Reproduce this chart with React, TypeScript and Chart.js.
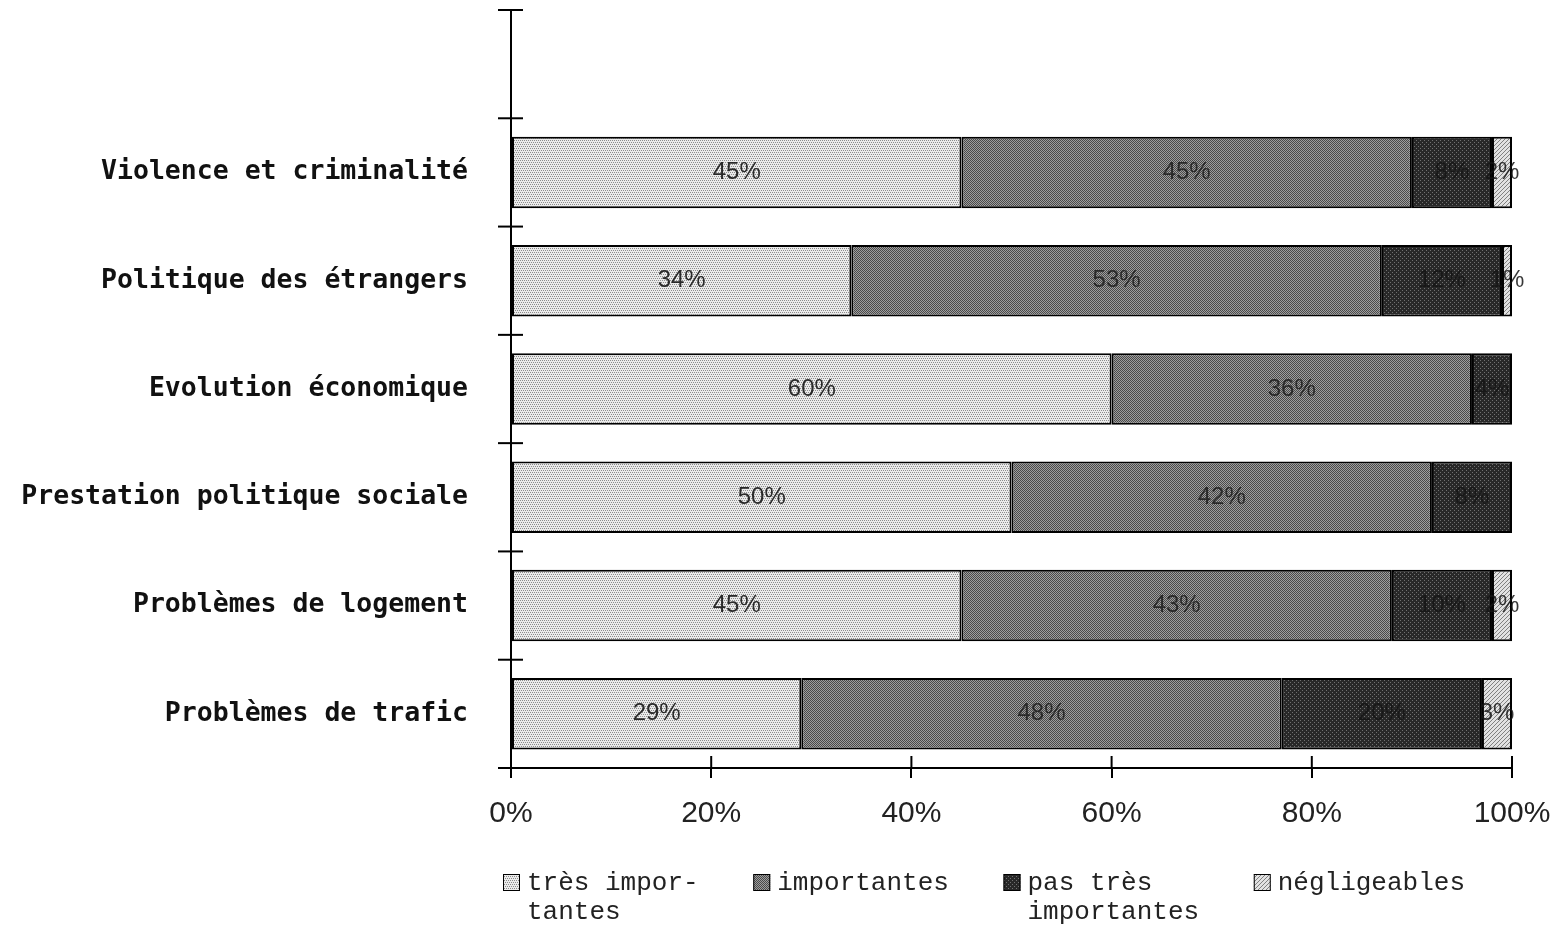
import React, { useEffect, useRef } from 'react';
import { Chart, registerables } from 'chart.js';

Chart.register(...registerables);

const categories = [
  'Violence et criminalité',
  'Politique des étrangers',
  'Evolution économique',
  'Prestation politique sociale',
  'Problèmes de logement',
  'Problèmes de trafic',
];
const seriesLabels = ['très impor-\ntantes', 'importantes', 'pas très\nimportantes', 'négligeables'];
const tresImportantes = [45, 34, 60, 50, 45, 29];
const importantes = [45, 53, 36, 42, 43, 48];
const pasTresImportantes = [8, 12, 4, 8, 10, 20];
const negligeables = [2, 1, 0, 0, 2, 3];
const xTickValues = [0, 20, 40, 60, 80, 100];

type Kind = 'light' | 'mid' | 'dark' | 'hatch';

function makePattern(kind: Kind): CanvasPattern | string {
  const c = document.createElement('canvas');
  c.width = 4;
  c.height = 4;
  const g = c.getContext('2d');
  if (!g) return '#888';
  if (kind === 'light') {
    g.fillStyle = '#ebebeb';
    g.fillRect(0, 0, 4, 4);
    g.fillStyle = '#8c8c8c';
    [[0, 0], [2, 0], [1, 2], [3, 2]].forEach(([x, y]) => g.fillRect(x, y, 1, 1));
  } else if (kind === 'mid') {
    for (let y = 0; y < 4; y++)
      for (let x = 0; x < 4; x++) {
        g.fillStyle = (x + y) % 2 === 0 ? '#4a4a4a' : '#9e9e9e';
        g.fillRect(x, y, 1, 1);
      }
  } else if (kind === 'dark') {
    g.fillStyle = '#282828';
    g.fillRect(0, 0, 4, 4);
    g.fillStyle = '#707070';
    [[0, 0], [2, 2]].forEach(([x, y]) => g.fillRect(x, y, 1, 1));
  } else {
    g.fillStyle = '#e2e2e2';
    g.fillRect(0, 0, 4, 4);
    g.fillStyle = '#808080';
    for (let i = 0; i < 4; i++) g.fillRect(3 - i, i, 1, 1);
  }
  return g.createPattern(c, 'repeat') || '#888';
}

const crossTicks = {
  id: 'crossTicks',
  afterDraw(chart: any) {
    const ctx = chart.ctx;
    const xs = chart.scales.x;
    const ys = chart.scales.y;
    const area = chart.chartArea;
    ctx.save();
    ctx.strokeStyle = '#000';
    ctx.lineWidth = 2;
    xs.ticks.forEach((_t: any, i: number) => {
      const x = xs.getPixelForTick(i);
      ctx.beginPath();
      ctx.moveTo(x, area.bottom - 12);
      ctx.lineTo(x, area.bottom);
      ctx.stroke();
    });
    const n = ys.ticks.length;
    for (let i = 0; i <= n; i++) {
      const y = ys.getPixelForValue(i - 0.5);
      ctx.beginPath();
      ctx.moveTo(area.left - 13, y);
      ctx.lineTo(area.left + 12, y);
      ctx.stroke();
    }
    ctx.beginPath();
    ctx.moveTo(area.left, area.bottom);
    ctx.lineTo(area.left, area.bottom + 7);
    ctx.stroke();
    ctx.restore();
  },
};

const valueLabels = {
  id: 'valueLabels',
  afterDatasetsDraw(chart: any) {
    const ctx = chart.ctx;
    ctx.save();
    ctx.font = '24px "Liberation Sans", Arial, sans-serif';
    ctx.textAlign = 'center';
    ctx.textBaseline = 'middle';
    chart.data.datasets.forEach((ds: any, di: number) => {
      const meta = chart.getDatasetMeta(di);
      meta.data.forEach((el: any, i: number) => {
        const v = ds.data[i];
        if (v === null || v === undefined || v <= 0) return;
        ctx.fillStyle = di >= 2 ? 'rgba(20,20,20,0.85)' : '#2a2a2a';
        ctx.fillText(v + '%', (el.x + el.base) / 2, el.y);
      });
    });
    ctx.restore();
  },
};

const customLegend = {
  id: 'customLegend',
  afterDraw(chart: any) {
    const ctx = chart.ctx;
    const area = chart.chartArea;
    const step = (area.right - area.left) / 4;
    ctx.save();
    ctx.font = '26px "Liberation Mono", "Courier New", monospace';
    ctx.textAlign = 'left';
    ctx.textBaseline = 'middle';
    chart.data.datasets.forEach((ds: any, i: number) => {
      const x0 = area.left - 8 + i * step;
      const boxTop = area.bottom + 106;
      ctx.fillStyle = ds.backgroundColor;
      ctx.fillRect(x0, boxTop, 17, 17);
      ctx.strokeStyle = '#000';
      ctx.lineWidth = 1;
      ctx.strokeRect(x0 + 0.5, boxTop + 0.5, 16, 16);
      ctx.fillStyle = '#222';
      String(ds.label)
        .split('\n')
        .forEach((line: string, li: number) => {
          ctx.fillText(line, x0 + 24, boxTop + 9 + li * 29);
        });
    });
    ctx.restore();
  },
};

export default function App() {
  const ref = useRef<HTMLCanvasElement | null>(null);

  useEffect(() => {
    if (!ref.current) return;
    const fills = [makePattern('light'), makePattern('mid'), makePattern('dark'), makePattern('hatch')];
    const series = [tresImportantes, importantes, pasTresImportantes, negligeables];
    const labels = ['', ...categories];
    const chart = new Chart(ref.current, {
      type: 'bar',
      data: {
        labels,
        datasets: series.map((vals, i) => ({
          label: seriesLabels[i],
          data: [null, ...vals],
          backgroundColor: fills[i] as any,
          borderColor: '#000',
          borderWidth: 2,
          borderSkipped: false,
          barPercentage: 0.66,
          categoryPercentage: 1,
        })),
      },
      plugins: [crossTicks, valueLabels, customLegend],
      options: {
        indexAxis: 'y',
        animation: false,
        responsive: false,
        maintainAspectRatio: false,
        layout: { padding: { left: 0, right: 45, top: 10, bottom: 0 } },
        plugins: {
          legend: { display: false },
          tooltip: { enabled: false },
          title: { display: false },
        },
        scales: {
          x: {
            stacked: true,
            min: 0,
            max: 100,
            afterBuildTicks: (scale: any) => {
              scale.ticks = xTickValues.map((v) => ({ value: v }));
            },
            afterFit: (scale: any) => {
              scale.height = 159;
              scale.paddingLeft = 0;
              scale.paddingRight = 0;
            },
            ticks: {
              callback: (v: any) => v + '%',
              font: { family: '"Liberation Sans", Arial, sans-serif', size: 30 },
              color: '#222',
              padding: 18,
              maxRotation: 0,
            },
            grid: {
              drawOnChartArea: false,
              drawTicks: true,
              tickLength: 10,
              color: '#000',
              lineWidth: 2,
            },
            border: { display: true, color: '#000', width: 2 },
          },
          y: {
            stacked: true,
            offset: true,
            afterFit: (scale: any) => {
              scale.width = 511;
              scale.paddingTop = 0;
              scale.paddingBottom = 0;
            },
            ticks: {
              font: { family: '"DejaVu Sans Mono", monospace', size: 26.5, weight: 'bold' },
              color: '#111',
              padding: 0,
            },
            grid: {
              offset: true,
              drawOnChartArea: false,
              drawTicks: true,
              tickLength: 43,
              tickColor: 'rgba(0,0,0,0)',
              color: '#000',
              lineWidth: 2,
            },
            border: { display: true, color: '#000', width: 2 },
          },
        },
      } as any,
    });
    return () => chart.destroy();
  }, []);

  return (
    <div style={{ position: 'absolute', left: 0, top: 0, width: 1557, height: 927, background: '#fff' }}>
      <canvas ref={ref} width={1557} height={927} style={{ width: 1557, height: 927, display: 'block' }} />
    </div>
  );
}
